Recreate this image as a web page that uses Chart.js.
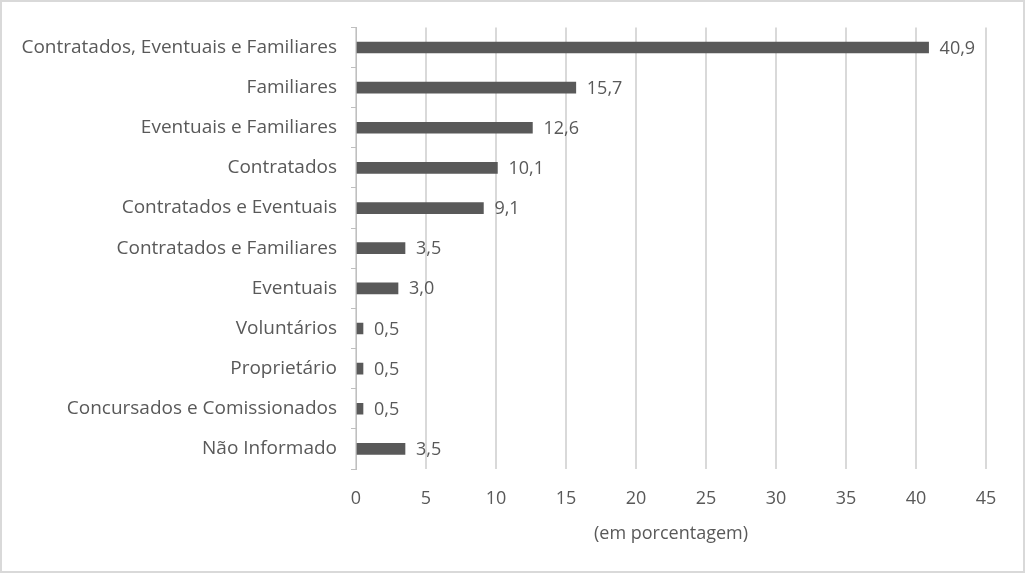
<!DOCTYPE html>
<html>
<head>
<meta charset="utf-8">
<script src="https://cdn.jsdelivr.net/npm/chart.js@4"></script>
<style>
  html, body { margin: 0; padding: 0; background: #fff; }
  #wrap { width: 1025px; height: 573px; box-sizing: border-box; border: 2px solid #d9d9d9; position: relative; }
</style>
</head>
<body>
<div id="wrap"><canvas id="myChart" width="1021" height="569"></canvas></div>
<script>
const categories = [
  "Contratados, Eventuais e Familiares",
  "Familiares",
  "Eventuais e Familiares",
  "Contratados",
  "Contratados e Eventuais",
  "Contratados e Familiares",
  "Eventuais",
  "Voluntários",
  "Proprietário",
  "Concursados e Comissionados",
  "Não Informado"
];
const values = [40.9, 15.7, 12.6, 10.1, 9.1, 3.5, 3.0, 0.5, 0.5, 0.5, 3.5];
const xTitle = "(em porcentagem)";

const textColor = "#595959";
const fontFamily = "'Open Sans', sans-serif";
const fontSize = 19;

// labels at the end of each bar, with comma decimals
const valueLabels = {
  id: "valueLabels",
  afterDatasetsDraw(chart) {
    const ctx = chart.ctx;
    const meta = chart.getDatasetMeta(0);
    ctx.save();
    ctx.fillStyle = textColor;
    ctx.font = "18px " + fontFamily;
    ctx.textAlign = "left";
    ctx.textBaseline = "middle";
    meta.data.forEach((bar, i) => {
      const txt = values[i].toFixed(1).replace(".", ",");
      ctx.fillText(txt, bar.x + 11, bar.y + 1);
    });
    ctx.restore();
  }
};

const ctx = document.getElementById("myChart");

const chart = new Chart(ctx, {
  type: "bar",
  data: {
    labels: categories,
    datasets: [
      {
        data: values,
        backgroundColor: "#595959",
        borderWidth: 0,
        barThickness: 11,
      },
    ],
  },
  options: {
    indexAxis: "y",
    responsive: false,
    animation: false,
    layout: {
      padding: { top: 18, right: 37, bottom: 0, left: 0 },
    },
    scales: {
      x: {
        min: 0,
        max: 45,
        ticks: {
          stepSize: 5,
          color: textColor,
          font: { family: fontFamily, size: 18 },
          padding: 19,
        },
        grid: {
          color: "#d9d9d9",
          lineWidth: 2,
          drawTicks: false,
        },
        border: { display: false },
        title: {
          display: true,
          text: xTitle,
          color: textColor,
          font: { family: fontFamily, size: 18 },
          padding: { top: 0, bottom: 26 },
        },
        afterFit(scale) {
          scale.height = 102;
        },
      },
      y: {
        ticks: {
          color: textColor,
          font: { family: fontFamily, size: fontSize },
          padding: 14,
        },
        grid: {
          drawOnChartArea: false,
          color: "#bfbfbf",
          tickLength: 5,
        },
        border: { display: true, color: "#bfbfbf", width: 1 },
        afterFit(scale) {
          scale.width = 354;
        },
      },
    },
    plugins: {
      legend: { display: false },
      tooltip: { enabled: false },
    },
  },
  plugins: [valueLabels],
});
</script>
</body>
</html>
